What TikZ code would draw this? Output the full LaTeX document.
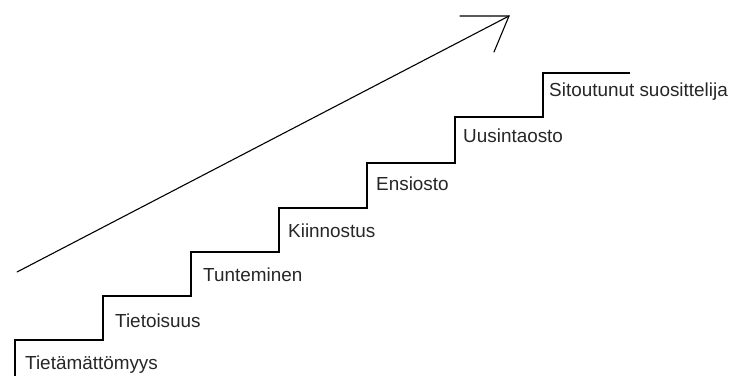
\documentclass[tikz,border=0pt]{standalone}
\usepackage{fontspec}
\setmainfont{Liberation Sans}
\begin{document}
\begin{tikzpicture}[x=1pt,y=-1pt,
  stair/.style={line width=1.1pt,line join=miter},
  lbl/.style={anchor=west,inner sep=0pt,font=\fontsize{18.9}{20}\selectfont,text=black!85},
  arr/.style={line width=1.1pt,line cap=round}]
\useasboundingbox (0,0) rectangle (732,376);
% staircase corners
\coordinate (s0) at (15,376);
\coordinate (s1) at (15,340);
\coordinate (s2) at (103,340);
\coordinate (s3) at (103,296);
\coordinate (s4) at (191,296);
\coordinate (s5) at (191,252);
\coordinate (s6) at (279,252);
\coordinate (s7) at (279,208);
\coordinate (s8) at (367,208);
\coordinate (s9) at (367,163);
\coordinate (s10) at (455,163);
\coordinate (s11) at (455,117);
\coordinate (s12) at (543,117);
\coordinate (s13) at (543,73);
\coordinate (s14) at (630,73);
\draw[stair] (s0) -- (s1) -- (s2) -- (s3) -- (s4) -- (s5) -- (s6) -- (s7) -- (s8) -- (s9) -- (s10) -- (s11) -- (s12) -- (s13) -- (s14);
% labels
\node[lbl] (l1) at (25,365) {Tietämättömyys};
\node[lbl] (l2) at (115,321) {Tietoisuus};
\node[lbl] (l3) at (203,275) {Tunteminen};
\node[lbl] (l4) at (288,231) {Kiinnostus};
\node[lbl] (l5) at (376,184) {Ensiosto};
\node[lbl] (l6) at (463,136) {Uusintaosto};
\node[lbl] (l7) at (549,92) {Sitoutunut suosittelija};
% arrow
\coordinate (a0) at (17,272);
\coordinate (a1) at (509,16);
\coordinate (b1) at (460,16);
\coordinate (b2) at (494,52);
\draw[arr] (a0) -- (a1);
\draw[arr] (b1) -- (a1) -- (b2);
\end{tikzpicture}
\end{document}
